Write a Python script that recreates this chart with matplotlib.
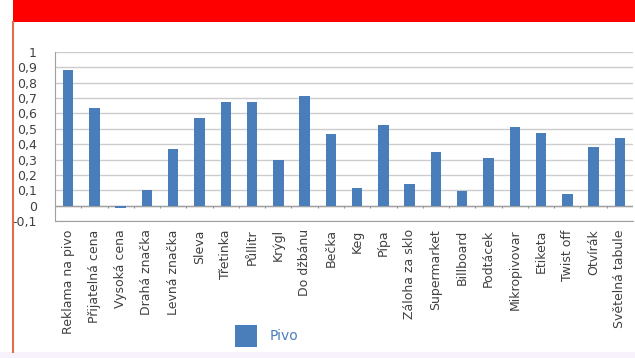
import matplotlib.pyplot as plt
import numpy as np
from matplotlib.patches import Rectangle
from matplotlib.lines import Line2D

categories = ["Reklama na pivo", "Přijatelná cena", "Vysoká cena", "Drahá značka",
              "Levná značka", "Sleva", "Třetinka", "Půllitr", "Krýgl", "Do džbánu",
              "Bečka", "Keg", "Pípa", "Záloha za sklo", "Supermarket", "Billboard",
              "Podtácek", "Mikropivovar", "Etiketa", "Twist off", "Otvírák",
              "Světelná tabule"]
pivo = [0.885, 0.637, -0.017, 0.10, 0.367, 0.572, 0.676, 0.676, 0.298, 0.711,
        0.465, 0.113, 0.524, 0.139, 0.348, 0.096, 0.307, 0.515, 0.474, 0.076,
        0.38, 0.439]
yticks = [-0.1, 0, 0.1, 0.2, 0.3, 0.4, 0.5, 0.6, 0.7, 0.8, 0.9, 1]

W, H = 635, 358
fig = plt.figure(figsize=(W / 100, H / 100), dpi=100)
fig.patch.set_facecolor("white")

# red banner + frame
fig.patches.append(Rectangle((13 / W, 1 - 22 / H), 1, 22 / H, transform=fig.transFigure,
                             facecolor="#ff0000", edgecolor="none", zorder=0))
fig.patches.append(Rectangle((0, 0), 1, 6 / H, transform=fig.transFigure,
                             facecolor="#f7f2fb", edgecolor="none", zorder=0))
fig.lines.append(Line2D([13 / W, 13 / W], [6 / H, 1 - 22 / H], transform=fig.transFigure,
                        color="#e0704a", lw=1.5))

ax = fig.add_axes([55 / W, 1 - 221 / H, 578 / W, 169 / H])
x = np.arange(len(categories))
bars = ax.bar(x, pivo, width=0.4, color="#4a7ebb", zorder=3, label="Pivo")

ax.set_xlim(-0.5, len(categories) - 0.5)
ax.set_ylim(-0.1, 1.0)
ax.set_yticks(yticks)
ax.set_yticklabels([("%g" % v).replace(".", ",") for v in yticks],
                   fontsize=9, color="#404040")
ax.yaxis.grid(True, color="#cccccc", lw=1, zorder=0)
ax.tick_params(axis="y", length=0, pad=13)
ax.axhline(0, color="#a0a0a0", lw=1, zorder=2)
ax.vlines(x[:-1] + 0.5, -0.015, 0, color="#909090", lw=0.8, zorder=2)

ax.set_xticks(x)
ax.set_xticklabels(categories, rotation=90, fontsize=9, color="#404040")
ax.tick_params(axis="x", length=0, pad=6)

for s in ["top", "right"]:
    ax.spines[s].set_visible(False)
ax.spines["left"].set_color("#a0a0a0")
ax.spines["bottom"].set_color("#a0a0a0")

fig.legend(handles=[bars], labels=["Pivo"], loc="center left",
           bbox_to_anchor=(222 / W, 1 - 336 / H), frameon=False, fontsize=10,
           handlelength=1.65, handleheight=2.0, labelcolor="#4a7ebb", handletextpad=0.9)

fig.savefig("out.png", dpi=100)
